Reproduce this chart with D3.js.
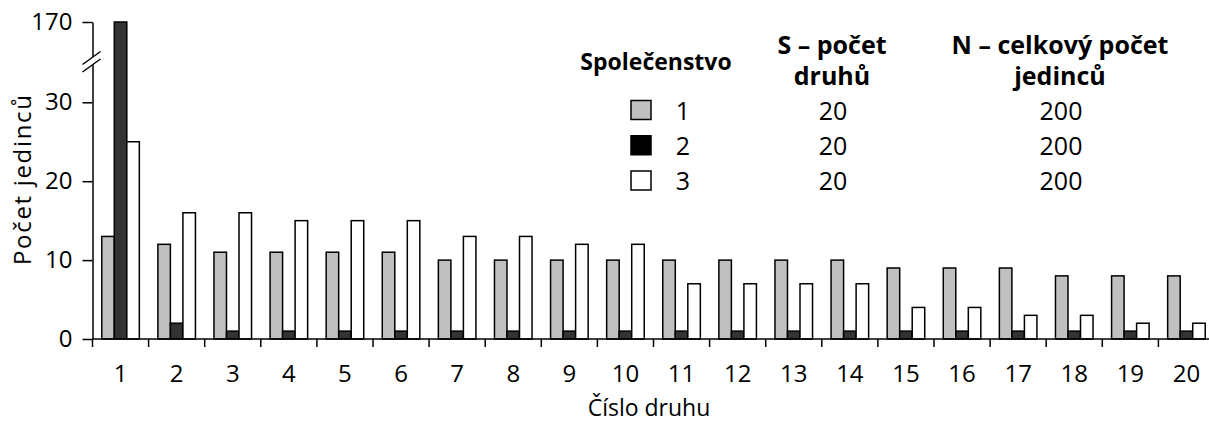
<!DOCTYPE html>
<html><head><meta charset="utf-8">
<script src="https://cdn.jsdelivr.net/npm/d3@7"></script>
<style>
html,body{margin:0;padding:0;background:#fff;}
svg{display:block;font-family:"Open Sans",sans-serif;}
</style></head>
<body>
<svg id="chart" width="1209" height="423"></svg>
<script>
const categories = ["1","2","3","4","5","6","7","8","9","10","11","12","13","14","15","16","17","18","19","20"];
const seriesNames = ["1","2","3"];
const series1 = [13,12,11,11,11,11,10,10,10,10,10,10,10,10,9,9,9,8,8,8];
const series2 = [170,2,1,1,1,1,1,1,1,1,1,1,1,1,1,1,1,1,1,1];
const series3 = [25,16,16,15,15,15,13,13,12,12,7,7,7,7,4,4,3,3,2,2];
const seriesColors = ["#c0c0c0","#333333","#ffffff"];
const legendColors = ["#c0c0c0","#000000","#ffffff"];
const yTicks = [0,10,20,30,170];
const speciesCount = [20,20,20];
const totalCount = [200,200,200];
const yLabel = "Počet jedinců";
const xLabel = "Číslo druhu";
const legendHeaders = ["Společenstvo", ["S – počet","druhů"], ["N – celkový počet","jedinců"]];

const svg = d3.select("#chart");
const FS = 24;
const x0 = 92.5, yBase = 339;
const x = d3.scaleBand().domain(categories).range([x0, x0 + 20*56.1]).padding(0);
const xs = d3.scaleBand().domain(seriesNames).range([0, x.bandwidth()]).paddingInner(0).paddingOuter(0.74);
// broken axis: 0-30 linear, then 30-170 compressed
const y = d3.scaleLinear().domain([0,30,170]).range([yBase, 102.3, 22]);

const data = [series1, series2, series3];

// bars
data.forEach((vals, si) => {
  svg.append("g").selectAll("rect").data(vals).join("rect")
    .attr("x", (d,i) => x(categories[i]) + xs(seriesNames[si]))
    .attr("y", d => y(d))
    .attr("width", xs.bandwidth())
    .attr("height", d => yBase - y(d))
    .attr("fill", seriesColors[si])
    .attr("stroke", "#000")
    .attr("stroke-width", 1.5);
});

// y axis
const gy = svg.append("g").attr("transform", `translate(${x0},0)`)
  .call(d3.axisLeft(y).tickValues(yTicks).tickSize(10).tickSizeOuter(0).tickPadding(10).tickFormat(d3.format("d")));
gy.select(".domain").attr("stroke-width", 1.5);
gy.selectAll(".tick line").attr("stroke-width", 1.5);
gy.selectAll("text").attr("font-size", FS).attr("fill", "#000").attr("font-family", "Open Sans");
// break marks
gy.append("rect").attr("x", -3).attr("y", 57).attr("width", 6).attr("height", 8).attr("fill", "#fff");
[57.5, 65].forEach(cy => {
  gy.append("line").attr("x1", -10).attr("y1", cy + 7).attr("x2", 8).attr("y2", cy - 6)
    .attr("stroke", "#000").attr("stroke-width", 1.5);
});

// x axis
const gx = svg.append("g").attr("transform", `translate(0,${yBase})`)
  .call(d3.axisBottom(x).tickSize(8).tickSizeOuter(0).tickPadding(18));
gx.select(".domain").attr("stroke-width", 1.5).attr("d", `M${x0},0H${x0 + 20*56.1}`);
gx.selectAll(".tick line").attr("x1", -x.bandwidth()/2).attr("x2", -x.bandwidth()/2).attr("stroke-width", 1.5);
gx.selectAll("text").attr("font-size", FS).attr("fill", "#000").attr("font-family", "Open Sans");

// axis titles
svg.append("text").attr("transform", "translate(31,180) rotate(-90)")
  .attr("text-anchor", "middle").attr("font-size", FS)
  .attr("textLength", 170).attr("lengthAdjust", "spacing").text(yLabel);
svg.append("text").attr("x", 649).attr("y", 416)
  .attr("text-anchor", "middle").attr("font-size", 23).text(xLabel);

// legend table
const lg = svg.append("g");
lg.append("text").attr("x", 656).attr("y", 70).attr("text-anchor", "middle")
  .attr("font-size", 23).attr("font-weight", "bold").text(legendHeaders[0]);
[[832, legendHeaders[1]], [1060, legendHeaders[2]]].forEach(([cx, lines]) => {
  lines.forEach((t, i) => {
    lg.append("text").attr("x", cx).attr("y", 54 + i*31).attr("text-anchor", "middle")
      .attr("font-size", 25).attr("font-weight", "bold").text(t);
  });
});
const rowY = d3.scalePoint().domain(seriesNames).range([110, 180.5]);
seriesNames.forEach((s, i) => {
  const cy = rowY(s);
  lg.append("rect").attr("x", 631).attr("y", cy - 9.5).attr("width", 20).attr("height", 19)
    .attr("fill", legendColors[i]).attr("stroke", "#000").attr("stroke-width", 1.5);
  lg.append("text").attr("x", 683).attr("y", cy + 9.5).attr("text-anchor", "middle").attr("font-size", 25).text(s);
  lg.append("text").attr("x", 833).attr("y", cy + 9.5).attr("text-anchor", "middle").attr("font-size", 25).text(speciesCount[i]);
  lg.append("text").attr("x", 1061).attr("y", cy + 9.5).attr("text-anchor", "middle").attr("font-size", 25).text(totalCount[i]);
});
</script>
</body></html>
